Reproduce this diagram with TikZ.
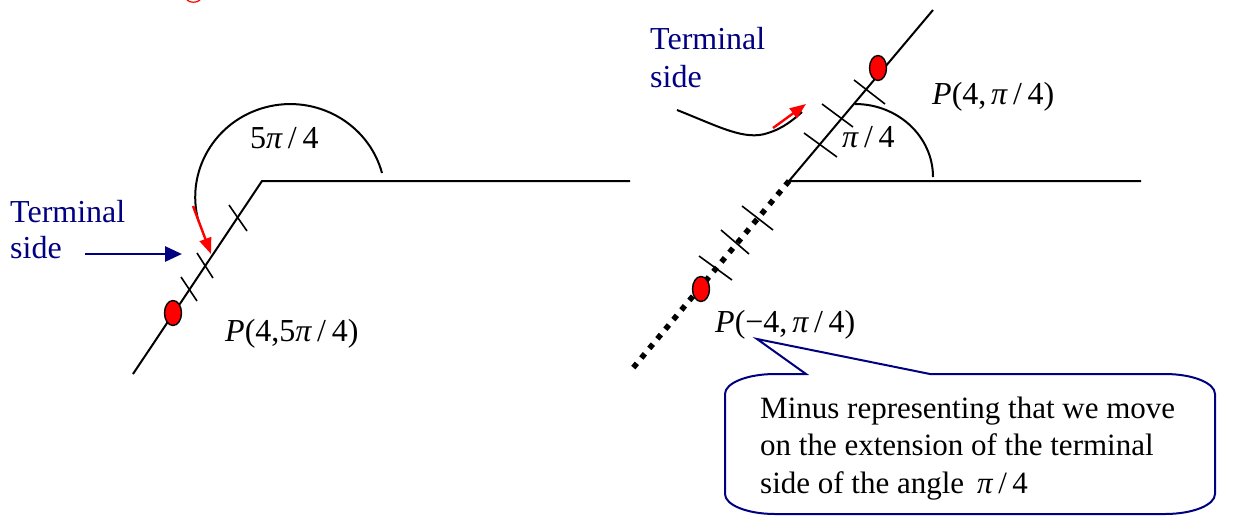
\documentclass[tikz,border=0pt]{standalone}
\usepackage{fontspec}
\setmainfont{Liberation Serif}
\usetikzlibrary{arrows.meta,shapes.geometric}
\definecolor{navyblue}{RGB}{0,0,128}
\begin{document}
\begin{tikzpicture}[x=1pt,y=-1pt,
  line/.style={line width=2pt, draw=black},
  tickmark/.style={line width=1.6pt, draw=black},
  reddot/.style={ellipse, fill=red, draw=black, line width=1.4pt, inner sep=0pt, minimum width=17pt, minimum height=25pt},
  lbl/.style={anchor=base west, inner sep=0pt, font=\fontsize{32}{36}\selectfont},
  bluelbl/.style={lbl, text=navyblue},
  redarrow/.style={draw=red, line width=2.4pt, -{Triangle[length=16pt,width=12pt]}},
  bluearrow/.style={draw=navyblue, line width=2.8pt, -{Triangle[length=17pt,width=15pt]}},
  callout/.style={draw=navyblue, line width=2pt, fill=white}]
\useasboundingbox (0,0) rectangle (1244,515);

% cut-off red heading fragment
\draw[red, line width=1.2pt] (187,0) .. controls (190,3) and (197,3) .. (200,0);

% ---------- left diagram ----------
\coordinate (L0) at (262,181);
\coordinate (L1) at (630,181);
\coordinate (L2) at (133,374);
\draw[line] (L1) -- (L0) -- (L2);
\draw[line] (382,173) arc[start angle=-15, end angle=-195, x radius=95, y radius=93];
\draw[tickmark] (229,205) -- (247,231);
\draw[tickmark] (197,253) -- (213,278);
\draw[tickmark] (181,277) -- (197,301);
\node[reddot] (dotL) at (173,313) {};
\coordinate (raL1) at (193,206);
\coordinate (raL2) at (211,254);
\draw[redarrow] (raL1) -- (raL2);
\node[lbl] (angL) at (250,148) {5{\itshape π}\hspace{0.18em}/\hspace{0.18em}4};
\node[bluelbl] (termL) at (10,222) {Terminal};
\node[bluelbl] (sideL) at (10,258) {side};
\coordinate (baL1) at (85,254);
\coordinate (baL2) at (182,254);
\draw[bluearrow] (baL1) -- (baL2);
\node[lbl] (PL) at (225,341) {{\itshape P}(4,5{\itshape π}\hspace{0.18em}/\hspace{0.18em}4)};

% ---------- right diagram ----------
\coordinate (R0) at (789,181);
\coordinate (R1) at (1141,181);
\coordinate (R2) at (933,10);
\coordinate (R3) at (633,368);
\draw[line] (R1) -- (R0) -- (R2);
\draw[line width=5.5pt, dash pattern=on 5.5pt off 7pt] (R0) -- (R3);
\draw[line] (855,104) arc[start angle=-90, end angle=0, x radius=78, y radius=73];
\draw[tickmark] (854,80) -- (885,104);
\draw[tickmark] (822,104) -- (853,127);
\draw[tickmark] (804,133) -- (837,157);
\draw[tickmark] (742,206) -- (773,230);
\draw[tickmark] (721,230) -- (749,254);
\draw[tickmark] (699,256) -- (732,280);
\node[reddot] (dotR1) at (878,68) {};
\node[reddot] (dotR2) at (701,289) {};
\node[bluelbl] (termR) at (650,49) {Terminal};
\node[bluelbl] (sideR) at (650,87) {side};
\coordinate (cv0) at (677,110);
\coordinate (cv1) at (802,112);
\draw[line] (cv0) .. controls (720,127) and (745,141) .. (768,133) .. controls (784,128) and (794,119) .. (cv1);
\coordinate (raR1) at (773,128);
\coordinate (raR2) at (806,104);
\draw[redarrow] (raR1) -- (raR2);
\node[lbl] (angR) at (842,147) {{\itshape π}\hspace{0.18em}/\hspace{0.18em}4};
\node[lbl] (PR) at (932,104) {{\itshape P}(4,\hspace{0.15em}{\itshape π}\hspace{0.18em}/\hspace{0.18em}4)};
\node[lbl] (PN) at (715,332) {{\itshape P}(−4,\hspace{0.15em}{\itshape π}\hspace{0.18em}/\hspace{0.18em}4)};

% ---------- callout ----------
\coordinate (tip) at (757,339);
\draw[callout] (806,374) -- (tip) -- (930,374) -- (1165,374)
  arc[start angle=-90, end angle=0, x radius=50, y radius=20] -- (1215,494)
  arc[start angle=0, end angle=90, x radius=50, y radius=20] -- (775,514)
  arc[start angle=90, end angle=180, x radius=50, y radius=20] -- (725,394)
  arc[start angle=180, end angle=270, x radius=50, y radius=20] -- cycle;
\node[anchor=base west, inner sep=0pt, font=\fontsize{31}{37.5}\selectfont] (ctext) at (760,418)
  {\begin{tabular}[t]{@{}l@{}}Minus representing that we move\\
   on the extension of the terminal\\
   side of the angle \,{\itshape π}\hspace{0.18em}/\hspace{0.18em}4\end{tabular}};
\end{tikzpicture}
\end{document}
